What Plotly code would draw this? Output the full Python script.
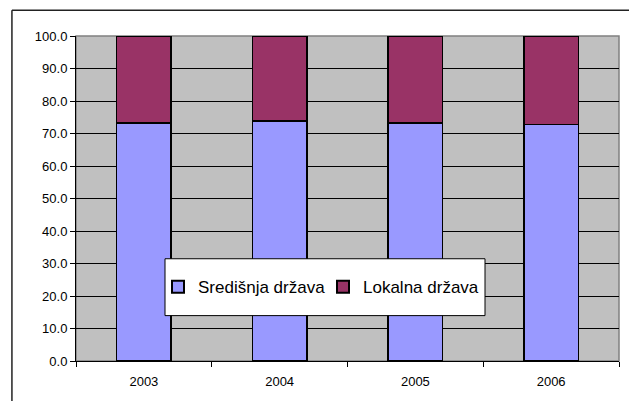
import plotly.graph_objects as go

years = ["2003", "2004", "2005", "2006"]
sredisnja = [73.3, 73.9, 73.3, 72.8]
lokalna = [26.7, 26.1, 26.7, 27.2]
series_names = ["Središnja država", "Lokalna država"]
y_ticks = [0, 10, 20, 30, 40, 50, 60, 70, 80, 90, 100]

FONT = "Arial, Liberation Sans, sans-serif"

fig = go.Figure()
fig.add_trace(go.Bar(x=years, y=sredisnja, name=series_names[0],
                     marker=dict(color="#9999FF", line=dict(color="black", width=1.5)),
                     width=0.4))
fig.add_trace(go.Bar(x=years, y=lokalna, name=series_names[1],
                     marker=dict(color="#993366", line=dict(color="black", width=1.5)),
                     width=0.4))

# outer chart frame (left and top edges)
fig.add_shape(type="line", xref="x domain", yref="y domain",
              x0=-0.118, x1=1.2, y0=1.079, y1=1.079,
              line=dict(color="#222222", width=1.5))
fig.add_shape(type="line", xref="x domain", yref="y domain",
              x0=-0.118, x1=-0.118, y0=-0.2, y1=1.079,
              line=dict(color="#222222", width=1.5))
# plot area border (gray)
fig.add_shape(type="rect", xref="x domain", yref="y domain",
              x0=0, x1=1, y0=0, y1=1, layer="below",
              line=dict(color="#808080", width=1.5))
# legend box
fig.add_shape(type="rect", xref="x domain", yref="y domain",
              x0=(165 - 76) / 543, x1=(485 - 76) / 543,
              y0=(361.5 - 316) / 325.8, y1=(361.5 - 259) / 325.8,
              layer="above", fillcolor="white",
              line=dict(color="black", width=1))

fig.update_layout(
    barmode="stack",
    width=629, height=401,
    margin=dict(l=76, r=10, t=36, b=40),
    paper_bgcolor="white",
    plot_bgcolor="#C0C0C0",
    font=dict(family=FONT, size=12, color="black"),
    showlegend=True,
    legend=dict(orientation="h", x=(158 - 76) / 543, y=(361.5 - 287.5) / 325.8,
                xanchor="left", yanchor="middle",
                bgcolor="rgba(0,0,0,0)", borderwidth=0,
                font=dict(family=FONT, size=17, color="black"),
                traceorder="normal", entrywidth=120, entrywidthmode="pixels",
                itemsizing="constant"),
    bargap=0.6,
)
fig.update_yaxes(range=[0, 100], tickvals=y_ticks, tickformat=".1f",
                 showgrid=True, gridcolor="black", gridwidth=1,
                 ticks="outside", ticklen=5, tickcolor="black",
                 showline=True, linecolor="black", linewidth=1,
                 tickfont=dict(family=FONT, size=13, color="black"),
                 zeroline=False, automargin=False)
fig.update_xaxes(showgrid=False, ticks="outside", tickson="boundaries",
                 ticklen=5, tickcolor="black", ticklabelstandoff=8,
                 showline=True, linecolor="black", linewidth=1,
                 tickfont=dict(family=FONT, size=13, color="black"),
                 automargin=False)

fig.write_html("out.html", config={"displayModeBar": False},
               post_script="document.body.style.margin='0';")
